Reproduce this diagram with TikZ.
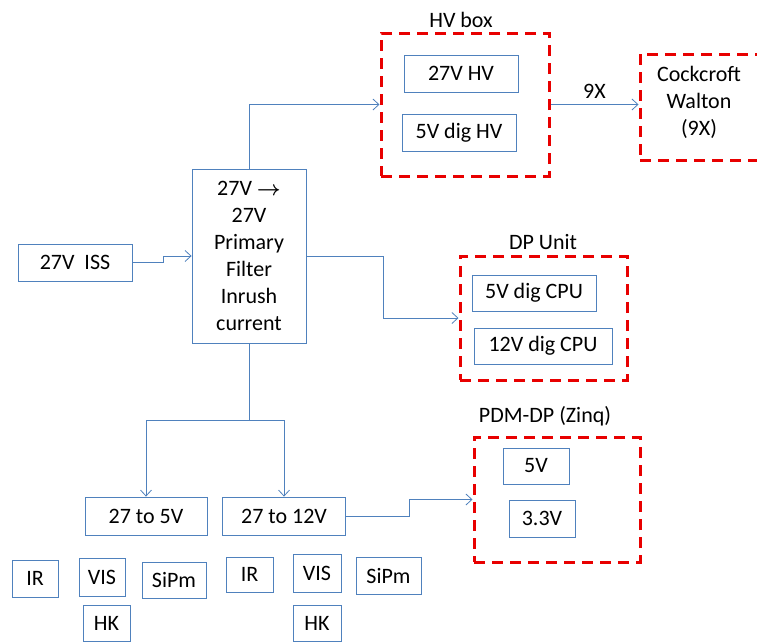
\documentclass[tikz,border=0pt]{standalone}
\usepackage{fontspec}
\setmainfont{Carlito}
\usetikzlibrary{arrows.meta}
\definecolor{pwrblue}{RGB}{79,129,189}
\definecolor{pwrred}{RGB}{232,0,0}
\tikzset{
  pwrbox/.style={draw=pwrblue,line width=0.8pt,inner sep=0pt,align=center},
  pwrunit/.style={draw=pwrred,line width=3pt,dash pattern=on 11pt off 7pt,inner sep=0pt},
  pwrfeed/.style={pwrblue,line width=0.8pt,-{Straight Barb[length=6pt,width=11pt]}},
  every picture/.style={font=\fontsize{22}{27}\selectfont}
}

\begin{document}
\begin{tikzpicture}[x=1pt,y=-1pt]
  \clip (0,0) rectangle (757,641);
  \node[pwrbox,minimum width=114pt,minimum height=37pt] (iss) at (75,262.5) {27V\ \ ISS};
  \node[pwrbox,minimum width=114pt,minimum height=174pt] (main) at (249,256)
    {27V {\boldmath$\rightarrow$}\\27V\\Primary\\Filter\\Inrush\\current};
  \node[pwrunit,minimum width=168pt,minimum height=143pt] (hvbox) at (465,104.5) {};
  \node at (461,20) {HV box};
  \node[pwrbox,minimum width=114pt,minimum height=37pt] (hv27) at (461,73.5) {27V HV};
  \node[pwrbox,minimum width=114pt,minimum height=37pt] (hv5) at (459,132.5) {5V dig HV};
  \node[pwrunit,minimum width=118pt,minimum height=106pt,align=center] (cw) at (699,107) {};
  \node at (699,102) [align=center] {Cockcroft\\Walton\\(9X)};
  \node[pwrunit,minimum width=167pt,minimum height=124pt] (dp) at (543.5,318) {};
  \node at (543,242) {DP Unit};
  \node[pwrbox,minimum width=124pt,minimum height=36pt] (cpu5) at (534,293) {5V dig CPU};
  \node[pwrbox,minimum width=138pt,minimum height=36pt] (cpu12) at (543,346) {12V dig CPU};
  \node[pwrunit,minimum width=166pt,minimum height=125pt] (pdm) at (557,499.5) {};
  \node at (545,416) {PDM-DP (Zinq)};
  \node[pwrbox,minimum width=66pt,minimum height=36pt] (v5) at (536,466) {5V};
  \node[pwrbox,minimum width=66pt,minimum height=37pt] (v33) at (542,518.5) {3.3V};
  \node[pwrbox,minimum width=122pt,minimum height=38pt] (c5) at (146,516) {27 to 5V};
  \node[pwrbox,minimum width=123pt,minimum height=38pt] (c12) at (284,516) {27 to 12V};
  \node[pwrbox,minimum width=46pt,minimum height=37pt] (ir1) at (35,578.5) {IR};
  \node[pwrbox,minimum width=46pt,minimum height=38pt] (vis1) at (102,577) {VIS};
  \node[pwrbox,minimum width=64pt,minimum height=36pt] (sipm1) at (174,580) {SiPm};
  \node[pwrbox,minimum width=47pt,minimum height=36pt] (hk1) at (106.5,623) {HK};
  \node[pwrbox,minimum width=47pt,minimum height=35pt] (ir2) at (249.5,574.5) {IR};
  \node[pwrbox,minimum width=48pt,minimum height=38pt] (vis2) at (317,573) {VIS};
  \node[pwrbox,minimum width=65pt,minimum height=37pt] (sipm2) at (388.5,575.5) {SiPm};
  \node[pwrbox,minimum width=48pt,minimum height=36pt] (hk2) at (317,623) {HK};
  \draw[pwrfeed] (iss.east) -- ++(31,0) |- (main.west);
  \draw[pwrfeed] (main.north) |- (hvbox.west);
  \draw[pwrfeed] (hvbox.east) -- (hvbox.east -| cw.west)
    node[midway,above=2pt,text=black] {9X};
  \draw[pwrfeed] (main.east) -- ++(77,0) |- (dp.west);
  \draw[pwrfeed] (main.south) -- ++(0,77) coordinate (split) -| (c5.north);
  \draw[pwrfeed] (split) -| (c12.north);
  \draw[pwrfeed] (c12.east) -- ++(63,0) |- (pdm.west);
\end{tikzpicture}
\end{document}
